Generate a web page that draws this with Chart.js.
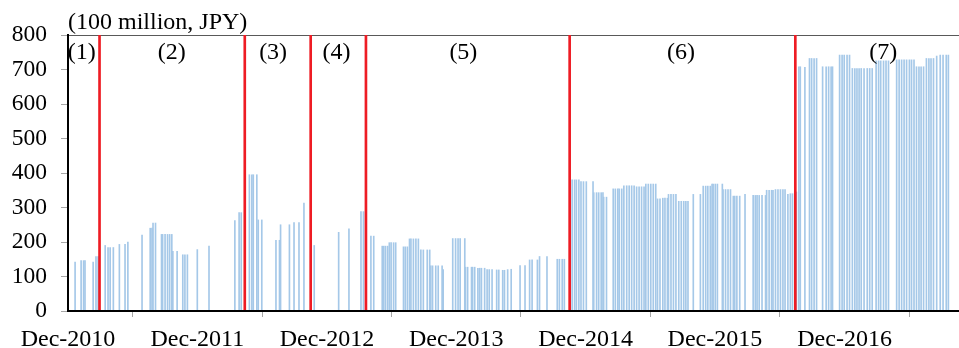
<!DOCTYPE html>
<html><head><meta charset="utf-8">
<script src="https://cdn.jsdelivr.net/npm/chart.js@4/dist/chart.umd.min.js"></script>
<style>html,body{margin:0;padding:0;background:#fff}</style>
</head><body>
<canvas id="c" width="959" height="348"></canvas>
<script>
// ---- DATA ----
const purchaseDates = [
'2011-01-04','2011-01-21','2011-01-28','2011-02-01','2011-02-24','2011-03-04','2011-03-10',
'2011-03-30','2011-04-07','2011-04-13','2011-04-22','2011-05-09','2011-05-25','2011-06-02','2011-07-12',
'2011-08-04','2011-08-09','2011-08-12','2011-08-19','2011-09-05','2011-09-08','2011-09-15','2011-09-22',
'2011-09-28','2011-10-04','2011-10-07','2011-10-19','2011-11-04','2011-11-10','2011-11-17','2011-12-15',
'2012-01-17','2012-03-30','2012-04-11','2012-04-17',
'2012-05-10','2012-05-17','2012-05-21','2012-05-31','2012-06-04','2012-06-14','2012-07-24','2012-08-03',
'2012-08-06','2012-08-31','2012-09-13','2012-09-27','2012-10-11',
'2012-11-09','2013-01-17','2013-02-15','2013-03-21','2013-03-28',
'2013-04-18','2013-04-26','2013-05-20','2013-05-24','2013-05-29','2013-06-04','2013-06-09','2013-06-14',
'2013-06-21','2013-06-27','2013-07-19','2013-07-24','2013-07-30','2013-08-05','2013-08-09','2013-08-16',
'2013-08-23','2013-08-30','2013-09-06','2013-09-13','2013-09-24','2013-10-01','2013-10-04','2013-10-09',
'2013-10-18','2013-10-25','2013-11-05','2013-11-08','2013-12-05','2013-12-13','2013-12-20','2013-12-26',
'2014-01-08','2014-01-10','2014-01-16','2014-01-27','2014-01-30','2014-02-05','2014-02-14','2014-02-19',
'2014-02-24','2014-03-05','2014-03-12','2014-03-18','2014-03-26','2014-04-08','2014-04-14','2014-04-25',
'2014-04-30','2014-05-09','2014-05-19','2014-06-13','2014-06-27','2014-07-10','2014-07-17','2014-08-01',
'2014-08-07','2014-08-28','2014-09-26','2014-10-02','2014-10-10','2014-10-16',
'2014-11-07','2014-11-14','2014-11-19','2014-11-26','2014-12-02','2014-12-09','2014-12-17','2015-01-05',
'2015-01-07','2015-01-15','2015-01-21','2015-01-28','2015-02-02','2015-02-04','2015-02-12','2015-03-03',
'2015-03-09','2015-03-16','2015-03-20','2015-03-27','2015-04-02','2015-04-10','2015-04-17','2015-04-24',
'2015-05-01','2015-05-08','2015-05-15','2015-05-22','2015-05-29','2015-06-03','2015-06-10','2015-06-17',
'2015-06-24','2015-07-01','2015-07-06','2015-07-13','2015-07-21','2015-07-27','2015-08-03','2015-08-06',
'2015-08-13','2015-08-20','2015-08-27','2015-09-04','2015-09-11','2015-09-18','2015-09-24','2015-09-30',
'2015-10-15','2015-11-04','2015-11-12','2015-11-19','2015-11-25','2015-12-02','2015-12-07','2015-12-10',
'2015-12-16','2015-12-22','2016-01-05','2016-01-07','2016-01-14','2016-01-21','2016-01-28','2016-02-05',
'2016-02-09','2016-02-15','2016-02-23','2016-03-09','2016-04-01','2016-04-07','2016-04-12','2016-04-18',
'2016-04-26','2016-05-06','2016-05-09','2016-05-16','2016-05-23','2016-05-27','2016-06-03','2016-06-10',
'2016-06-17','2016-06-24','2016-06-30','2016-07-08','2016-07-15','2016-07-21','2016-08-01',
'2016-08-08','2016-08-12','2016-08-25','2016-09-07','2016-09-13','2016-09-20','2016-09-27','2016-10-14',
'2016-10-24','2016-10-31','2016-11-07','2016-11-11','2016-12-01','2016-12-08','2016-12-14','2016-12-22',
'2016-12-29','2017-01-06','2017-01-13','2017-01-19','2017-01-25','2017-01-31','2017-02-08','2017-02-17',
'2017-02-24','2017-03-03','2017-03-14','2017-03-21','2017-03-27','2017-04-04','2017-04-11','2017-04-18',
'2017-05-11','2017-05-18','2017-05-25','2017-06-01','2017-06-08','2017-06-16','2017-06-22','2017-06-29',
'2017-07-06','2017-07-13','2017-07-19','2017-07-26','2017-08-03','2017-08-10','2017-08-16','2017-08-23',
'2017-09-01','2017-09-11','2017-09-19','2017-09-28','2017-10-04'
];
const purchaseValues = [
142,146,146,146,142,158,158,
190,184,184,184,193,193,200,220,
240,240,255,255,222,222,222,222,
222,222,173,173,163,163,163,178,
188,262,285,285,
395,395,395,395,264,264,205,205,
250,250,256,256,313,
190,228,238,288,288,
217,217,188,188,188,188,198,198,
198,198,186,186,186,209,209,209,
209,209,177,177,177,177,131,131,
131,131,131,120,210,210,210,210,
210,127,127,127,127,127,124,124,
124,124,120,120,120,119,119,118,
118,120,121,132,132,148,148,148,
158,158,150,150,150,150,
380,380,380,380,375,375,375,375,
343,343,343,343,343,330,330,354,
354,354,354,354,363,363,363,363,
363,360,360,360,360,368,368,368,
368,368,325,325,327,327,327,338,
338,338,338,318,318,318,318,318,
338,338,362,362,362,362,368,368,
368,368,368,352,352,352,352,333,
333,333,333,338,335,335,335,335,
335,335,350,350,350,350,352,352,
352,352,352,338,340,340,345,
708,708,706,732,732,732,732,708,
708,708,708,708,742,742,742,742,
742,703,703,703,703,703,703,703,
703,703,725,725,725,725,725,725,
728,728,728,728,728,728,728,728,
708,708,708,708,732,732,732,732,
739,742,742,742,742
];
const boundaryDates = ['2011-03-14','2012-04-27','2012-10-30','2013-04-04','2014-10-31','2016-07-29'];
const periodLabels = ['(1)','(2)','(3)','(4)','(5)','(6)','(7)'];
const periodLabelDates = ['2011-01-23','2011-10-04','2012-07-16','2013-01-11','2014-01-04','2015-09-10','2017-04-03'];
const tickDates = ['2010-12-15','2011-12-15','2012-12-15','2013-12-15','2014-12-15','2015-12-15','2016-12-15'];
const tickLabels = ['Dec-2010','Dec-2011','Dec-2012','Dec-2013','Dec-2014','Dec-2015','Dec-2016'];
const axisStartDate = '2010-12-15';
const axisEndDate = '2017-11-03';
const yMax = 800, yStep = 100;
const unitLabel = '(100 million, JPY)';

// ---- CHART ----
const day = s => Date.parse(s + 'T00:00:00Z') / 86400000;
Chart.defaults.font.family = "'Liberation Serif','Times New Roman',serif";
Chart.defaults.color = '#000';

const periodLabelPlugin = {
  id: 'periodLabels',
  afterDatasetsDraw(chart) {
    const {ctx, scales: {x, y}} = chart;
    // redraw axis lines over the bar bases
    x.drawBorder && x.drawBorder();
    y.drawBorder && y.drawBorder();
    ctx.save();
    ctx.font = "24px 'Liberation Serif'";
    ctx.fillStyle = '#000';
    ctx.textAlign = 'center';
    ctx.textBaseline = 'middle';
    periodLabels.forEach((t, i) => {
      ctx.fillText(t, x.getPixelForValue(day(periodLabelDates[i])), y.getPixelForValue(750));
    });
    ctx.restore();
  }
};

new Chart(document.getElementById('c'), {
  type: 'bar',
  data: {
    datasets: [
      {
        data: boundaryDates.map(d => ({x: day(d), y: yMax})),
        backgroundColor: '#ee1c24',
        barThickness: 2,
        grouped: false,
        order: 0
      },
      {
        data: purchaseDates.map((d, i) => ({x: day(d), y: purchaseValues[i]})),
        backgroundColor: '#a5c8e8',
        barThickness: 1,
        grouped: false,
        order: 1
      }
    ]
  },
  options: {
    responsive: false,
    animation: false,
    layout: {padding: 0},
    plugins: {
      legend: {display: false},
      tooltip: {enabled: false},
      title: {
        display: true, text: unitLabel, align: 'start', fullSize: false,
        color: '#000', font: {size: 24, weight: 'normal', lineHeight: 1},
        padding: {top: 11, bottom: 0}
      }
    },
    scales: {
      x: {
        type: 'linear',
        offset: false,
        min: day(axisStartDate),
        max: day(axisEndDate),
        afterBuildTicks: s => { s.ticks = tickDates.map(d => ({value: day(d)})); },
        afterFit: s => { s.height = 37; },
        ticks: {
          autoSkip: false, maxRotation: 0, padding: 8,
          font: {size: 24}, color: '#000',
          callback: (v, i) => tickLabels[i]
        },
        grid: {drawOnChartArea: false, drawTicks: true, tickLength: 6, tickColor: '#a6a6a6'},
        border: {display: true, color: '#000', width: 2}
      },
      y: {
        min: 0, max: yMax,
        afterFit: s => { s.width = 68; },
        ticks: {stepSize: yStep, padding: 14, font: {size: 23.5}, color: '#000'},
        grid: {
          drawTicks: true, tickLength: 7, tickColor: '#a6a6a6',
          color: c => (c.tick && c.tick.value === yMax) ? '#595959' : 'rgba(0,0,0,0)',
          lineWidth: 1
        },
        border: {display: true, color: '#000', width: 2}
      }
    }
  },
  plugins: [periodLabelPlugin]
});
</script>
</body></html>
